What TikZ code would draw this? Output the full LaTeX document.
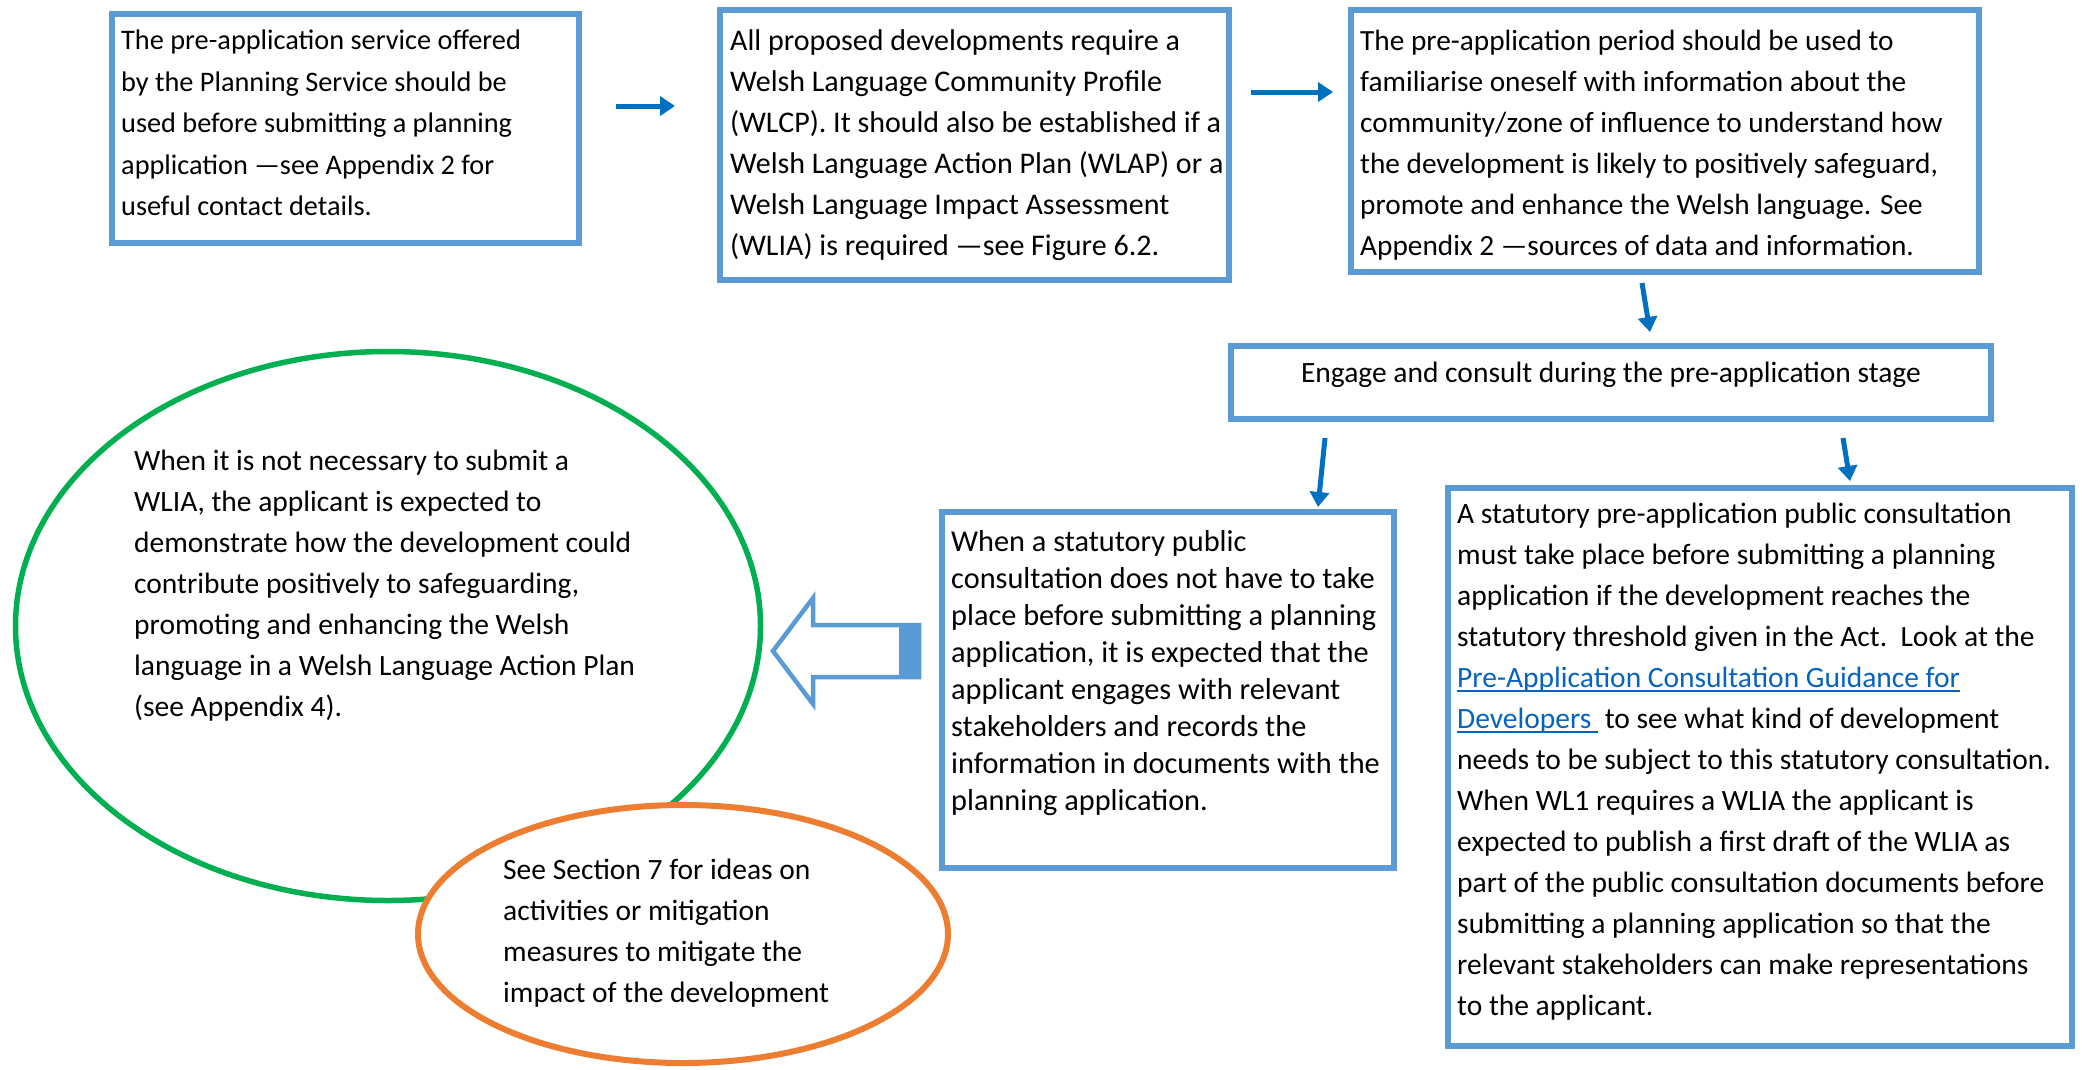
\documentclass[tikz,border=0pt]{standalone}
\usepackage{fontspec}
\setmainfont{Carlito}
\usetikzlibrary{arrows.meta,calc,shapes.geometric}
\definecolor{boxblue}{HTML}{5B9BD5}
\definecolor{arrblue}{HTML}{0070C0}
\definecolor{ellgreen}{HTML}{00B050}
\definecolor{ellorange}{HTML}{ED7D31}
\definecolor{linkblue}{HTML}{0563C1}
\newcommand\myul[1]{\setbox0\hbox{#1}\rlap{\rule[-4pt]{\wd0}{1.8pt}}\box0}
\begin{document}
\begin{tikzpicture}[x=1pt,y=-1pt,
  stepbox/.style={draw=boxblue, line width=6pt, fill=white, rectangle, inner sep=0pt},
  txt/.style={anchor=north west, inner sep=0pt, align=left, font=\fontsize{29.5pt}{41pt}\selectfont},
  arr/.style={draw=arrblue, line width=5pt, -{Triangle[length=15pt,width=19pt]}},
  ell/.style={ellipse, inner sep=0pt, line width=5.5pt}]
\useasboundingbox (0,0) rectangle (2082,1069);
\fill[white] (0,0) rectangle (2082,1069);

% ellipses
\node[ell, draw=ellgreen, minimum width=745pt, minimum height=549pt] (ge) at (388,626) {};
\node[ell, draw=ellorange, fill=white, line width=6pt, minimum width=530pt, minimum height=258pt] (oe) at (683,934) {};

% boxes
\node[stepbox, minimum width=467pt, minimum height=229pt] (b1) at (345.5,128.5) {};
\node[stepbox, minimum width=509pt, minimum height=270pt] (b2) at (974.5,145) {};
\node[stepbox, minimum width=628pt, minimum height=262pt] (b3) at (1665,141) {};
\node[stepbox, minimum width=760pt, minimum height=73pt] (b4) at (1611,382.5) {};
\node[stepbox, minimum width=452pt, minimum height=356pt] (b5) at (1168,690) {};
\node[stepbox, minimum width=624pt, minimum height=558pt] (b6) at (1760,767) {};

% texts
\node[txt, font=\fontsize{28.3pt}{41.5pt}\selectfont] (t1) at (121,30) {The pre-application service offered\\
by the Planning Service should be\\
used before submitting a planning\\
application —see Appendix 2 for\\
useful contact details.};

\node[txt, font=\fontsize{30pt}{41pt}\selectfont] (t2) at (730,29) {All proposed developments require a\\
Welsh Language Community Profile\\
(WLCP). It should also be established if a\\
Welsh Language Action Plan (WLAP) or a\\
Welsh Language Impact Assessment\\
(WLIA) is required —see Figure 6.2.};

\node[txt, font=\fontsize{29.3pt}{41pt}\selectfont] (t3) at (1360,30) {The pre-application period should be used to\\
familiarise oneself with information about the\\
community/zone of influence to understand how\\
the development is likely to positively safeguard,\\
promote and enhance the Welsh language. See\\
Appendix 2 —sources of data and information.};

\node[txt, anchor=base] (t4) at (1611,382) {Engage and consult during the pre-application stage};

\node[txt, font=\fontsize{30.3pt}{37pt}\selectfont] (t5) at (951,530) {When a statutory public\\
consultation does not have to take\\
place before submitting a planning\\
application, it is expected that the\\
applicant engages with relevant\\
stakeholders and records the\\
information in documents with the\\
planning application.};

\node[txt] (t6) at (1457,503) {A statutory pre-application public consultation\\
must take place before submitting a planning\\
application if the development reaches the\\
statutory threshold given in the Act.\ \ Look at the\\
{\color{linkblue}\myul{Pre-Application Consultation Guidance for}}\\
{\color{linkblue}\myul{Developers\ }} to see what kind of development\\
needs to be subject to this statutory consultation.\\
When WL1 requires a WLIA the applicant is\\
expected to publish a first draft of the WLIA as\\
part of the public consultation documents before\\
submitting a planning application so that the\\
relevant stakeholders can make representations\\
to the applicant.};

\node[txt] (tg) at (134,450) {When it is not necessary to submit a\\
WLIA, the applicant is expected to\\
demonstrate how the development could\\
contribute positively to safeguarding,\\
promoting and enhancing the Welsh\\
language in a Welsh Language Action Plan\\
(see Appendix 4).};

\node[txt] (to) at (503,859) {See Section 7 for ideas on\\
activities or mitigation\\
measures to mitigate the\\
impact of the development};

% connectors
\draw[arr] ($(b1.east)+(34,-22.5)$) -- ($(b2.west)+(-42,-39)$);
\draw[arr] ($(b2.east)+(19,-53)$) -- ($(b3.west)+(-15,-49)$);
\draw[arr] ($(b3.south)+(-23,8)$) -- ($(b4.north)+(39,-11)$);
\draw[arr] ($(b4.south)+(-286,16)$) -- ($(b5.north)+(150,-2)$);
\draw[arr] ($(b4.south)+(232,16)$) -- ($(b6.north)+(90,-4)$);

% block arrow from b5 to green ellipse
\draw[draw=boxblue, line width=4.5pt, fill=white, line join=miter]
  (773,651) -- (813,598) -- (813,625) -- (919,625) -- (919,677) -- (813,677) -- (813,704) -- cycle;
\fill[boxblue] (899,625) rectangle (921,677);
\end{tikzpicture}
\end{document}
